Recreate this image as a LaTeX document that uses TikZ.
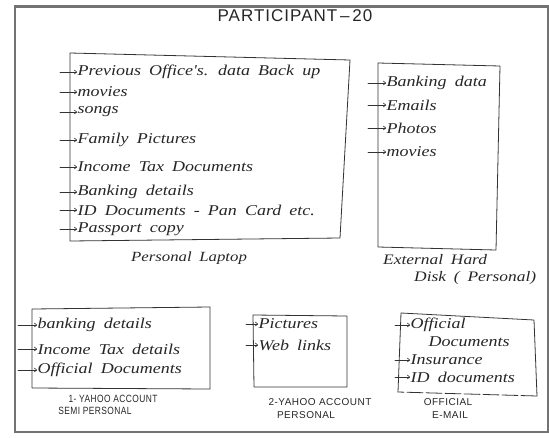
\documentclass[tikz,border=0pt]{standalone}
\usepackage{fontspec}
\newfontfamily\handfont[FakeStretch=1.2,WordSpace=1.8]{Liberation Serif}
\newfontfamily\capsfont[LetterSpace=5]{Liberation Sans}
\newfontfamily\narrowcaps[FakeStretch=0.8,LetterSpace=4]{Liberation Sans}
\newfontfamily\titlefont[LetterSpace=6]{Liberation Sans}
\usetikzlibrary{arrows.meta}
\tikzset{
	item/.style={anchor=west, inner sep=0.5pt, text=black!85,
		font=\handfont\itshape\fontsize{15}{15}\selectfont},
	handcapt/.style={inner sep=1pt, text=black!85,
		font=\handfont\itshape\fontsize{14}{14}\selectfont},
	capscapt/.style={inner sep=1pt, text=black!85,
		font=\capsfont\fontsize{10}{10}\selectfont},
	boxline/.style={draw=black!80, line width=0.8pt, line join=round},
	tip/.style={-{To[length=3pt,width=4.5pt]}, draw=black!80, line width=0.6pt}
}
\begin{document}
\begin{tikzpicture}[x=1pt,y=-1pt, line cap=round]
	\useasboundingbox (0,0) rectangle (549,437);
	\draw[black!55, line width=2.5pt] (15,6.5) rectangle (548,432); % frame
	\node[inner sep=1pt, text=black!85, font=\titlefont\fontsize{17}{17}\selectfont] (title) at (295,16) {PARTICIPANT\,–\,20};
	% personal laptop
	\draw[boxline] (70,53) -- (350,60) -- (340,238) -- (70,241) -- cycle;
	\foreach \n/\y/\t in {1/72/{Previous Office's. data Back up}, 2/92/movies, 3/112/songs,
		4/140/{Family Pictures}, 5/167/{Income Tax Documents}, 6/192/{Banking details},
		7/210/{ID Documents - Pan Card etc.}, 8/229/{Passport copy}}{
		\coordinate (lp\n s) at (60,\y);
		\node[item] (lp\n) at (77,\y) {\t};
		\draw[tip] (lp\n s) -- (lp\n);
	}
	\node[handcapt] (laptop) at (189,258) {Personal Laptop};
	% external hard disk
	\draw[boxline] (378,63) -- (500,66) -- (496,250) -- (378,247) -- cycle;
	\foreach \n/\y/\t in {1/83/{Banking data}, 2/105/Emails, 3/128/Photos, 4/152/movies}{
		\coordinate (hd\n s) at (368,\y);
		\node[item] (hd\n) at (386,\y) {\t};
		\draw[tip] (hd\n s) -- (hd\n);
	}
	\node[handcapt, anchor=west, font=\handfont\itshape\fontsize{14.5}{14.5}\selectfont] (disk1) at (382,260) {External Hard};
	\node[handcapt, anchor=west, font=\handfont\itshape\fontsize{14.5}{14.5}\selectfont] (disk2) at (413,278) {Disk ( Personal)};
	% yahoo 1
	\draw[boxline] (32,309) -- (210,307) -- (210,389) -- (32,388) -- cycle;
	\foreach \n/\y/\t in {1/325/{banking details}, 2/349/{Income Tax details}, 3/370/{Official Documents}}{
		\coordinate (ya\n s) at (18,\y);
		\node[item] (ya\n) at (37,\y) {\t};
		\draw[tip] (ya\n s) -- (ya\n);
	}
	\node[capscapt, font=\narrowcaps\fontsize{10.5}{10.5}\selectfont] (ya-c1) at (113,399) {1- YAHOO ACCOUNT};
	\node[capscapt, font=\narrowcaps\fontsize{10.5}{10.5}\selectfont] (ya-c2) at (95,411) {SEMI PERSONAL};
	% yahoo 2
	\draw[boxline] (253,315) -- (347,316) -- (347,387) -- (254,387) -- cycle;
	\foreach \n/\y/\t in {1/324/Pictures, 2/345/{Web links}}{
		\coordinate (yb\n s) at (246,\y);
		\node[item] (yb\n) at (258,\y) {\t};
		\draw[tip] (yb\n s) -- (yb\n);
	}
	\node[capscapt] (yb-c1) at (320,402) {2-YAHOO ACCOUNT};
	\node[capscapt] (yb-c2) at (306,415) {PERSONAL};
	% official e-mail
	\draw[boxline] (398,392) -- (401,313) -- (534,320) -- (537,396);
	\draw[boxline, dash pattern=on 16pt off 3pt] (537,396) -- (398,392);
	\foreach \n/\y/\t in {1/325/Official, 2/360/Insurance, 3/377/{ID documents}}{
		\coordinate (of\n s) at (395,\y);
		\node[item] (of\n) at (410,\y) {\t};
		\draw[tip] (of\n s) -- (of\n);
	}
	\node[item] (of1b) at (428,342) {Documents};
	\node[capscapt] (of-c1) at (448,402) {OFFICIAL};
	\node[capscapt] (of-c2) at (450,415) {E-MAIL};
\end{tikzpicture}
\end{document}
